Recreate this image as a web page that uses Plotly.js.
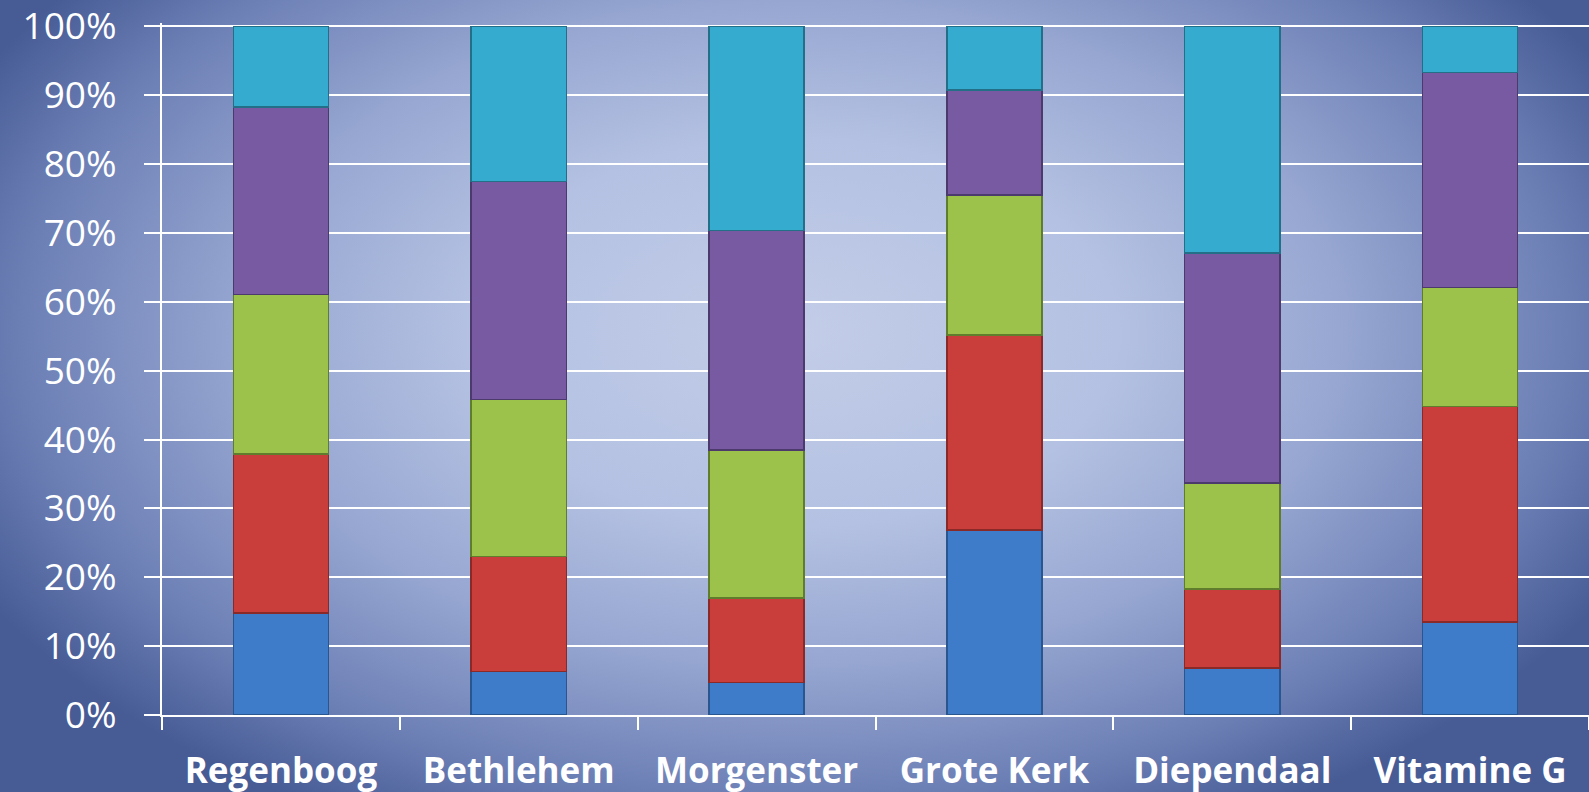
<!DOCTYPE html>
<html>
<head>
<meta charset="utf-8">
<script src="https://cdn.plot.ly/plotly-3.0.1.min.js"></script>
<style>
  html, body { margin: 0; padding: 0; }
  #chart {
    width: 1589px; height: 792px;
    background: radial-gradient(ellipse 58% 70% at 50% 42%, #c3cde8 0%, #b4c1e2 35%, #96a6d1 60%, #6c7fb5 84%, #475b95 100%);
  }
</style>
</head>
<body>
<div id="chart"></div>
<script>
const categories = ["Regenboog", "Bethlehem", "Morgenster", "Grote Kerk", "Diependaal", "Vitamine G"];
const seriesNames = ["Reeks 1", "Reeks 2", "Reeks 3", "Reeks 4", "Reeks 5"];
const serie1 = [14.8, 6.3, 4.7, 26.9, 6.8, 13.5];
const serie2 = [23.1, 16.7, 12.3, 28.3, 11.5, 31.3];
const serie3 = [23.2, 22.8, 21.5, 20.3, 15.4, 17.3];
const serie4 = [27.2, 31.7, 31.9, 15.3, 33.4, 31.2];
const serie5 = [11.7, 22.5, 29.6, 9.2, 32.9, 6.7];
const colors = ["#3e7cc9", "#c93e3b", "#9cc24c", "#775aa2", "#36abd0"];
const lineColors = ["#2a5690", "#8a2a28", "#607d2e", "#4d3a6c", "#246f88"];
const yTicks = [0, 10, 20, 30, 40, 50, 60, 70, 80, 90, 100];

const allSeries = [serie1, serie2, serie3, serie4, serie5];
const traces = allSeries.map((vals, i) => ({
  type: "bar",
  name: seriesNames[i],
  x: categories,
  y: vals,
  marker: { color: colors[i], line: { color: lineColors[i], width: 1.5 } },
  hoverinfo: "x+y+name"
}));

const layout = {
  width: 1589, height: 792,
  margin: { l: 162, r: 0, t: 23, b: 77 },
  paper_bgcolor: "rgba(0,0,0,0)",
  plot_bgcolor: "rgba(0,0,0,0)",
  barmode: "stack",
  barnorm: "percent",
  bargap: 0.6,
  showlegend: false,
  font: { family: "Open Sans, sans-serif", color: "#ffffff" },
  xaxis: {
    type: "category",
    showgrid: false,
    showline: true, linecolor: "#ffffff", linewidth: 2,
    ticks: "outside", tickson: "boundaries", ticklen: 13, tickwidth: 2, tickcolor: "#ffffff",
    tickfont: { family: "Open Sans, sans-serif", size: 35, color: "#ffffff", weight: "bold" },
    ticklabelstandoff: 24,
    ticklabeloverflow: "allow"
  },
  yaxis: {
    range: [0, 100.5],
    tickvals: yTicks,
    ticktext: yTicks.map(v => v + "%"),
    showgrid: true, gridcolor: "#ffffff", gridwidth: 2,
    showline: true, linecolor: "#ffffff", linewidth: 2,
    zeroline: false,
    ticks: "outside", ticklen: 16, tickwidth: 2, tickcolor: "#ffffff",
    tickfont: { family: "Open Sans, sans-serif", size: 37, color: "#ffffff" },
    ticklabelstandoff: 20,
    ticklabeloverflow: "allow"
  }
};

Plotly.newPlot("chart", traces, layout, { displayModeBar: false, staticPlot: true });
</script>
</body>
</html>
